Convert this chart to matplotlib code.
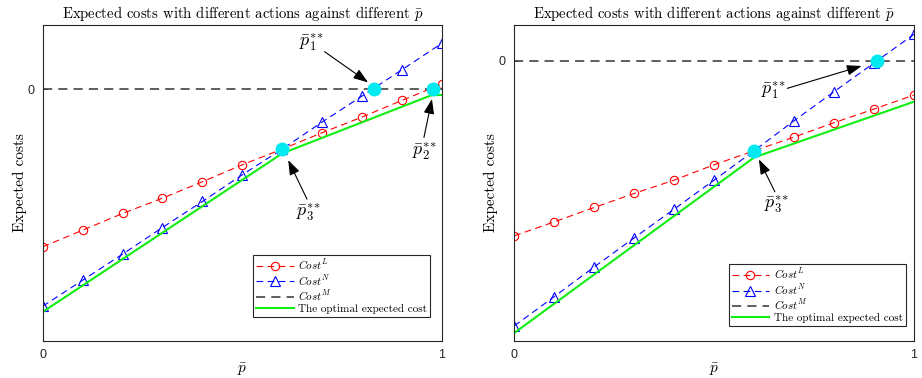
import matplotlib
matplotlib.use("Agg")
import matplotlib.pyplot as plt

plt.rcParams['mathtext.fontset'] = 'cm'
plt.rcParams['axes.unicode_minus'] = False

# ---- data ----
p_grid = [0.0, 0.1, 0.2, 0.3, 0.4, 0.5, 0.6, 0.7, 0.8, 0.9, 1.0]

cost_L_left = [-4.73, -4.23, -3.73, -3.27, -2.78, -2.27, -1.80, -1.31, -0.84, -0.34, 0.15]
cost_N_left = [-6.51, -5.73, -4.95, -4.15, -3.37, -2.57, -1.80, -0.99, -0.21, 0.58, 1.37]
opt_x_left = [0.0, 0.6, 0.975, 1.0]
opt_y_left = [-6.68, -1.93, -0.18, -0.18]
cross_x_left = [0.829, 0.977, 0.600]
cross_y_left = [0.0, 0.0, -1.80]

cost_L_right = [-5.25, -4.83, -4.40, -3.98, -3.58, -3.12, -2.70, -2.29, -1.86, -1.45, -1.03]
cost_N_right = [-7.95, -7.07, -6.18, -5.31, -4.45, -3.58, -2.70, -1.80, -0.93, -0.07, 0.79]
opt_x_right = [0.0, 0.6, 1.0]
opt_y_right = [-8.16, -2.90, -1.23]
cross_x_right = [0.908, 0.600]
cross_y_right = [0.0, -2.70]

cost_M = [0.0, 0.0]
m_x = [0.0, 1.0]

# annotations: (label, text_xy, arrow_start_xy, arrow_tip_xy)
ann_left = [
    (r'$\bar{p}_1^{*\!*}$', (0.673, 1.42), (0.706, 1.12), (0.815, 0.20)),
    (r'$\bar{p}_2^{*\!*}$', (0.957, -1.85), (0.955, -1.45), (0.975, -0.30)),
    (r'$\bar{p}_3^{*\!*}$', (0.665, -3.68), (0.662, -3.30), (0.615, -2.13)),
]
ann_right = [
    (r'$\bar{p}_1^{*\!*}$', (0.648, -0.88), (0.683, -0.83), (0.869, -0.16)),
    (r'$\bar{p}_3^{*\!*}$', (0.656, -4.30), (0.652, -3.93), (0.612, -2.96)),
]

title = r'Expected costs with different actions against different $\bar{p}$'
serif = 'cmr10'
sans = 'Liberation Sans'

fig = plt.figure(figsize=(9.22, 3.78), dpi=100)
ax1 = fig.add_axes([0.0463, 0.098, 0.433, 0.836])
ax2 = fig.add_axes([0.5578, 0.098, 0.4335, 0.836])

panels = [
    (ax1, cost_L_left, cost_N_left, opt_x_left, opt_y_left, cross_x_left, cross_y_left,
     ann_left, (-7.55, 1.92), (0.970, 0.076)),
    (ax2, cost_L_right, cost_N_right, opt_x_right, opt_y_right, cross_x_right, cross_y_right,
     ann_right, (-8.40, 1.07), (0.979, 0.047)),
]

for ax, L, N, ox, oy, cx, cy, anns, ylim, legpos in panels:
    ax.plot(p_grid, L, color='red', ls=(0, (6, 4)), lw=0.8, marker='o',
            markerfacecolor='none', markersize=6, markeredgewidth=0.8,
            label=r'$Cost^L$')
    ax.plot(p_grid, N, color='blue', ls=(0, (6, 4)), lw=0.8, marker='^',
            markerfacecolor='none', markersize=6.5, markeredgewidth=0.8,
            label=r'$Cost^N$')
    ax.plot(m_x, cost_M, color='#333333', ls=(0, (6, 4)), lw=1.1,
            label=r'$Cost^M$')
    ax.plot(ox, oy, color='#11ee11', lw=1.5, label='The optimal expected cost')
    ax.plot(cx, cy, ls='none', marker='o', color='#00eaf0', markersize=9, zorder=5)
    for lab, txy, sxy, axy in anns:
        ax.text(txy[0], txy[1], lab, fontsize=13, ha='center', va='center')
        ax.annotate('', xy=axy, xytext=sxy,
                    arrowprops=dict(arrowstyle='-|>,head_length=0.45,head_width=0.16',
                                    color='k', lw=0.8,
                                    mutation_scale=20, shrinkA=0, shrinkB=0))
    ax.set_xlim(0, 1)
    ax.set_ylim(*ylim)
    ax.set_xticks([0, 1])
    ax.set_xticklabels(['0', '1'], family=sans, fontsize=9)
    ax.set_yticks([0])
    ax.set_yticklabels(['0'], family=sans, fontsize=9)
    ax.tick_params(direction='in', length=3, width=0.6, colors='#262626', pad=6)
    for s in ax.spines.values():
        s.set_color('#262626')
        s.set_linewidth(0.8)
    ax.set_title(title, family=serif, fontsize=10.6, pad=5)
    ax.set_xlabel(r'$\bar{p}$', fontsize=11, labelpad=0)
    ax.set_ylabel('Expected costs', family=serif, fontsize=11, labelpad=0.5)
    leg = ax.legend(loc='lower right', bbox_to_anchor=legpos, numpoints=1,
                    prop={'family': serif, 'size': 8}, fancybox=False,
                    edgecolor='#262626', framealpha=1, handlelength=3.4,
                    borderpad=0.25, labelspacing=0.08, handletextpad=0.4,
                    borderaxespad=0)
    leg.get_frame().set_linewidth(0.8)

fig.savefig('out.png', dpi=100)
